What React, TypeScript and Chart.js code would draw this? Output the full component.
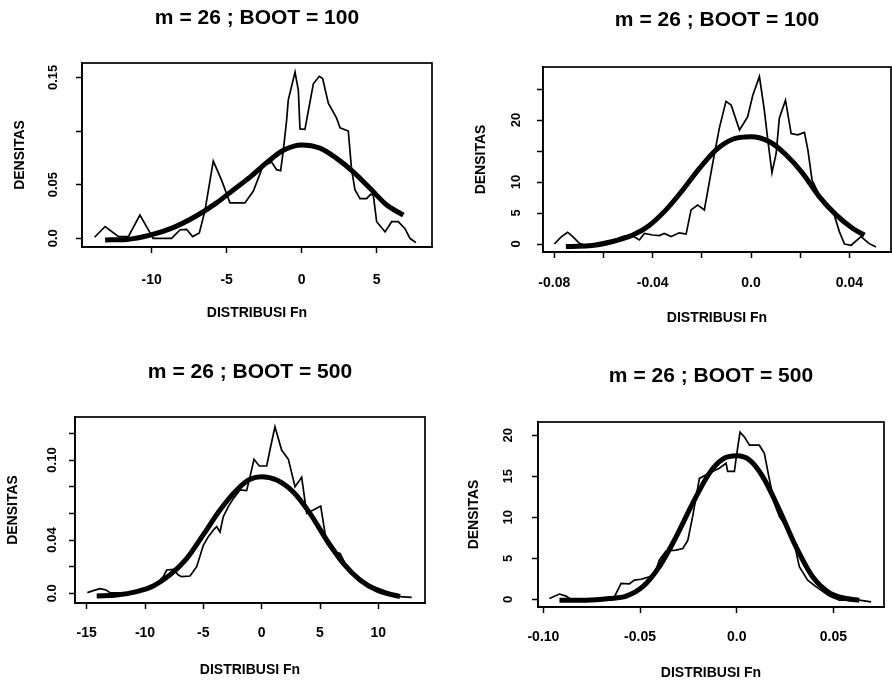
import React, { useEffect, useRef } from 'react';
import { Chart, registerables } from 'chart.js';

Chart.register(...registerables);

const FONT = '"Liberation Sans", Arial, Helvetica, sans-serif';

// ---------- titles ----------
const TITLE_100 = 'm = 26 ; BOOT = 100';
const TITLE_500 = 'm = 26 ; BOOT = 500';
const X_TITLE = 'DISTRIBUSI Fn';
const Y_TITLE = 'DENSITAS';

// ---------- panel 1 (top-left) ----------
const p1XTicks = [-10, -5, 0, 5];
const p1XLabels = ['-10', '-5', '0', '5'];
const p1YTicks = [0, 0.05, 0.1, 0.15];
const p1YLabels = ['0.0', '0.05', '', '0.15'];
const p1Thin: [number, number][] = [
  [-13.8, 0.001], [-13.1, 0.011], [-12.2, 0.0015], [-11.55, 0.0015], [-10.78, 0.0217],
  [-10.1, 0.005], [-9.9, 0], [-8.67, 0], [-8.1, 0.008], [-7.67, 0.0084], [-7.27, 0.0016],
  [-6.82, 0.005], [-6.44, 0.026], [-5.89, 0.072], [-5.33, 0.054], [-4.78, 0.033],
  [-3.78, 0.033], [-3.22, 0.044], [-2.56, 0.068], [-2.0, 0.071], [-1.67, 0.064],
  [-1.4, 0.063], [-1.22, 0.082], [-1.0, 0.11], [-0.89, 0.129], [-0.44, 0.155],
  [-0.22, 0.138], [-0.11, 0.102], [0.22, 0.1015], [0.78, 0.144], [1.18, 0.151],
  [1.4, 0.149], [1.78, 0.126], [2.33, 0.112], [2.56, 0.103], [3.11, 0.1], [3.33, 0.064],
  [3.56, 0.045], [3.89, 0.037], [4.33, 0.037], [4.6, 0.041], [4.78, 0.04], [5.0, 0.0155],
  [5.56, 0.006], [6.0, 0.0155], [6.44, 0.0155], [6.89, 0.009], [7.22, 0], [7.62, -0.004],
];
const p1Thick: [number, number][] = [
  [-13.1, -0.0015], [-11.67, -0.001], [-10.1, 0.003], [-8.56, 0.01], [-7.0, 0.021],
  [-5.67, 0.033], [-4.56, 0.045], [-3.44, 0.057], [-2.33, 0.0705], [-1.22, 0.082],
  [0, 0.087], [1.22, 0.084], [2.33, 0.0745], [3.44, 0.062], [4.56, 0.0466],
  [5.67, 0.031], [6.78, 0.0217],
];

// ---------- panel 2 (top-right) ----------
const p2XTicks = [-0.08, -0.06, -0.04, -0.02, 0, 0.02, 0.04];
const p2XLabels = ['-0.08', '', '-0.04', '', '0.0', '', '0.04'];
const p2YTicks = [0, 5, 10, 15, 20, 25];
const p2YLabels = ['0', '5', '10', '', '20', ''];
const p2Thin: [number, number][] = [
  [-0.08, 0], [-0.0773, 1.1], [-0.0746, 1.9], [-0.0725, 1.2], [-0.0698, 0.1],
  [-0.0671, -0.3], [-0.0603, 0], [-0.0556, 0.65], [-0.0522, 1.2], [-0.0488, 1.45],
  [-0.0454, 0.65], [-0.0434, 1.7], [-0.04, 1.45], [-0.0373, 1.35], [-0.0353, 1.7],
  [-0.0325, 1.2], [-0.0292, 1.8], [-0.0264, 1.6], [-0.0244, 5.5], [-0.0217, 6.3],
  [-0.019, 5.5], [-0.0156, 13.0], [-0.0129, 18.7], [-0.0102, 23.0], [-0.0081, 22.4],
  [-0.0047, 18.4], [-0.0014, 20.5], [0.0007, 24.0], [0.0034, 27.0], [0.0054, 21.6],
  [0.0068, 16.8], [0.0085, 11.5], [0.0102, 14.6], [0.0115, 20.3], [0.014, 23.2],
  [0.0163, 17.8], [0.019, 17.6], [0.0217, 18.0], [0.0231, 15.2], [0.0248, 10.3],
  [0.0264, 9.0], [0.0298, 6.3], [0.0332, 5.5], [0.0359, 2.0], [0.038, 0],
  [0.0407, -0.2], [0.0447, 1.2], [0.0479, 0.1], [0.0508, -0.5],
];
const p2Thick: [number, number][] = [
  [-0.0753, -0.4], [-0.0658, -0.3], [-0.0563, 0.4], [-0.0481, 1.45], [-0.0414, 3.0],
  [-0.0346, 5.5], [-0.0278, 8.7], [-0.021, 12.2], [-0.0142, 15.2], [-0.0075, 16.9],
  [0, 17.3], [0.0075, 16.5], [0.0142, 14.4], [0.021, 11.4], [0.0278, 7.6],
  [0.0346, 4.7], [0.0414, 2.5], [0.0461, 1.45],
];

// ---------- panel 3 (bottom-left) ----------
const p3XTicks = [-15, -10, -5, 0, 5, 10];
const p3XLabels = ['-15', '-10', '-5', '0', '5', '10'];
const p3YTicks = [0, 0.02, 0.04, 0.06, 0.08, 0.1, 0.12];
const p3YLabels = ['0.0', '', '0.04', '', '', '0.10', ''];
const p3Thin: [number, number][] = [
  [-14.94, 0.0005], [-14.43, 0.002], [-13.86, 0.0035], [-13.34, 0.0025], [-13.0, 0.0005],
  [-11.5, 0.0], [-9.86, 0.0037], [-9.0, 0.0075], [-8.43, 0.0125], [-8.14, 0.0175],
  [-7.57, 0.018], [-7.14, 0.0137], [-6.86, 0.0125], [-6.14, 0.013], [-5.57, 0.02],
  [-5.0, 0.036], [-4.57, 0.0425], [-4.14, 0.0475], [-3.86, 0.05], [-3.57, 0.046],
  [-3.29, 0.0575], [-2.86, 0.065], [-2.43, 0.071], [-1.86, 0.0775], [-1.29, 0.077],
  [-1.0, 0.0875], [-0.66, 0.1005], [-0.2, 0.0955], [0.43, 0.0955], [0.71, 0.1075],
  [1.14, 0.125], [1.71, 0.1075], [2.29, 0.1005], [2.86, 0.08], [3.43, 0.087],
  [3.86, 0.06], [4.43, 0.0625], [5.06, 0.0655], [5.57, 0.0375], [6.14, 0.031],
  [6.71, 0.03], [7.29, 0.02], [7.86, 0.015], [8.43, 0.01], [9.57, 0.005],
  [10.71, 0.0013], [11.86, -0.0025], [12.86, -0.003],
];
const p3Thick: [number, number][] = [
  [-14.14, -0.002], [-12.43, -0.0013], [-10.71, 0.0013], [-9.29, 0.0055], [-7.86, 0.0138],
  [-6.43, 0.026], [-5.0, 0.044], [-3.57, 0.0625], [-2.14, 0.0775], [-1.0, 0.0855],
  [0, 0.0875], [1.29, 0.085], [2.71, 0.076], [4.14, 0.06], [5.57, 0.04],
  [7.0, 0.0225], [8.43, 0.01], [9.86, 0.0025], [11.86, -0.0025],
];

// ---------- panel 4 (bottom-right) ----------
const p4XTicks = [-0.1, -0.05, 0, 0.05];
const p4XLabels = ['-0.10', '-0.05', '0.0', '0.05'];
const p4YTicks = [0, 5, 10, 15, 20];
const p4YLabels = ['0', '5', '10', '15', '20'];
const p4Thin: [number, number][] = [
  [-0.0969, 0.1], [-0.0917, 0.65], [-0.0883, 0.4], [-0.0857, 0], [-0.078, -0.1],
  [-0.071, 0.1], [-0.0633, 0.3], [-0.0598, 1.95], [-0.0555, 1.9], [-0.0529, 2.35],
  [-0.0495, 2.45], [-0.0452, 2.75], [-0.0426, 3.0], [-0.04, 4.8], [-0.0366, 5.9],
  [-0.0314, 6.0], [-0.0279, 6.2], [-0.0253, 7.2], [-0.0228, 10.1], [-0.0193, 14.75],
  [-0.0141, 15.4], [-0.009, 16.0], [-0.0055, 16.6], [-0.0047, 15.6], [-0.0012, 15.6],
  [-0.0003, 17.2], [0.0017, 20.4], [0.004, 19.8], [0.0066, 18.8], [0.0117, 18.8],
  [0.0143, 17.8], [0.0166, 15.0], [0.0195, 11.7], [0.0221, 10.1], [0.0255, 8.9],
  [0.0298, 6.8], [0.0324, 4.0], [0.0367, 2.35], [0.041, 1.55], [0.0479, 0.4],
  [0.0531, -0.1], [0.0634, -0.1], [0.0695, -0.3],
];
const p4Thick: [number, number][] = [
  [-0.0917, -0.1], [-0.0779, -0.1], [-0.0659, 0.1], [-0.0572, 0.4], [-0.0486, 1.55],
  [-0.04, 4.0], [-0.0314, 7.6], [-0.0228, 11.7], [-0.0141, 15.4], [-0.0072, 17.1],
  [0, 17.5], [0.0066, 17.0], [0.0134, 15.0], [0.0221, 10.9], [0.0307, 6.4],
  [0.0393, 2.75], [0.0479, 0.8], [0.0566, 0.1], [0.0634, -0.1],
];

type PanelCfg = {
  title: string;
  thin: [number, number][];
  thick: [number, number][];
  xTicks: number[];
  xLabels: string[];
  yTicks: number[];
  yLabels: string[];
  xMin: number; xMax: number; yMin: number; yMax: number;
  // layout (canvas coordinates)
  left: number; top: number; w: number; h: number;
  padRight: number; yW: number; xH: number;
  tPadTop: number; tPadBottom: number;
  xTickPad: number; xTitlePad: number;
  yTickPad: number; yTitlePad: number;
};

const PANELS: PanelCfg[] = [
  {
    title: TITLE_100, thin: p1Thin, thick: p1Thick,
    xTicks: p1XTicks, xLabels: p1XLabels, yTicks: p1YTicks, yLabels: p1YLabels,
    xMin: -14.64, xMax: 8.69, yMin: -0.0081, yMax: 0.1634,
    left: 0, top: 0, w: 446, h: 335, padRight: 14, yW: 82, xH: 88,
    tPadTop: 5.4, tPadBottom: 32.4, xTickPad: 19, xTitlePad: 13.6, yTickPad: 10.4, yTitlePad: 11.6,
  },
  {
    title: TITLE_100, thin: p2Thin, thick: p2Thick,
    xTicks: p2XTicks, xLabels: p2XLabels, yTicks: p2YTicks, yLabels: p2YLabels,
    xMin: -0.0846, xMax: 0.0569, yMin: -1.29, yMax: 28.55,
    left: 446, top: 0, w: 446, h: 335, padRight: 1, yW: 97, xH: 83,
    tPadTop: 7.4, tPadBottom: 34.4, xTickPad: 16.6, xTitlePad: 8.6, yTickPad: 13.8, yTitlePad: 26.6,
  },
  {
    title: TITLE_500, thin: p3Thin, thick: p3Thick,
    xTicks: p3XTicks, xLabels: p3XLabels, yTicks: p3YTicks, yLabels: p3YLabels,
    xMin: -16.0, xMax: 14.0, yMin: -0.00725, yMax: 0.13225,
    left: 0, top: 335, w: 446, h: 348, padRight: 21, yW: 75, xH: 80,
    tPadTop: 24.4, tPadBottom: 32.4, xTickPad: 15.6, xTitlePad: 4.6, yTickPad: 4.4, yTitlePad: 4.6,
  },
  {
    title: TITLE_500, thin: p4Thin, thick: p4Thick,
    xTicks: p4XTicks, xLabels: p4XLabels, yTicks: p4YTicks, yLabels: p4YLabels,
    xMin: -0.1028, xMax: 0.0762, yMin: -0.93, yMax: 21.63,
    left: 446, top: 335, w: 446, h: 348, padRight: 8, yW: 92, xH: 76,
    tPadTop: 28.4, tPadBottom: 33.4, xTickPad: 15.6, xTitlePad: 1.6, yTickPad: 16.8, yTitlePad: 19.6,
  },
];

const boxPlugin = {
  id: 'plotBox',
  afterDraw(chart: any) {
    const { ctx, chartArea } = chart;
    ctx.save();
    ctx.strokeStyle = '#000';
    ctx.lineWidth = 1.7;
    ctx.strokeRect(chartArea.left, chartArea.top, chartArea.right - chartArea.left, chartArea.bottom - chartArea.top);
    ctx.restore();
  },
};

function Panel({ cfg }: { cfg: PanelCfg }) {
  const ref = useRef<HTMLCanvasElement | null>(null);
  useEffect(() => {
    if (!ref.current) return;
    const toPts = (arr: [number, number][]) => arr.map(([x, y]) => ({ x, y }));
    const chart = new Chart(ref.current, {
      type: 'line',
      data: {
        datasets: [
          {
            data: toPts(cfg.thick),
            borderColor: '#000',
            borderWidth: 5,
            pointRadius: 0,
            fill: false,
            cubicInterpolationMode: 'monotone',
          },
          {
            data: toPts(cfg.thin),
            borderColor: '#000',
            borderWidth: 1.7,
            pointRadius: 0,
            fill: false,
            tension: 0,
          },
        ],
      },
      options: {
        animation: false,
        responsive: false,
        devicePixelRatio: 1,
        events: [],
        layout: { padding: { left: 0, right: cfg.padRight, top: 0, bottom: 0 } },
        plugins: {
          legend: { display: false },
          tooltip: { enabled: false },
          title: {
            display: true,
            text: cfg.title,
            fullSize: false,
            color: '#000',
            font: { family: FONT, size: 21, weight: 'bold', lineHeight: 1.2 },
            padding: { top: cfg.tPadTop, bottom: cfg.tPadBottom },
          },
        },
        scales: {
          x: {
            type: 'linear',
            min: cfg.xMin,
            max: cfg.xMax,
            afterFit: (s: any) => { s.height = cfg.xH; },
            afterBuildTicks: (a: any) => { a.ticks = cfg.xTicks.map((v) => ({ value: v })); },
            ticks: {
              autoSkip: false,
              minRotation: 0,
              maxRotation: 0,
              padding: cfg.xTickPad,
              color: '#000',
              font: { family: FONT, size: 14, weight: 'bold', lineHeight: 1.2 },
              callback: (_v: any, i: number) => cfg.xLabels[i],
            },
            grid: { display: true, drawOnChartArea: false, drawTicks: true, tickLength: 6, tickWidth: 1.5, color: '#000' },
            border: { display: true, color: '#000', width: 1.7 },
            title: {
              display: true,
              text: X_TITLE,
              color: '#000',
              font: { family: FONT, size: 14, weight: 'bold', lineHeight: 1.2 },
              padding: { top: 0, bottom: cfg.xTitlePad },
            },
          },
          y: {
            type: 'linear',
            min: cfg.yMin,
            max: cfg.yMax,
            afterFit: (s: any) => { s.width = cfg.yW; },
            afterBuildTicks: (a: any) => { a.ticks = cfg.yTicks.map((v) => ({ value: v })); },
            ticks: {
              autoSkip: false,
              minRotation: 90,
              maxRotation: 90,
              crossAlign: 'center',
              padding: cfg.yTickPad,
              color: '#000',
              font: { family: FONT, size: 13, weight: 'bold', lineHeight: 1.2 },
              callback: (_v: any, i: number) => cfg.yLabels[i],
            },
            grid: { display: true, drawOnChartArea: false, drawTicks: true, tickLength: 6, tickWidth: 1.5, color: '#000' },
            border: { display: true, color: '#000', width: 1.7 },
            title: {
              display: true,
              text: Y_TITLE,
              color: '#000',
              font: { family: FONT, size: 14, weight: 'bold', lineHeight: 1.2 },
              padding: { top: cfg.yTitlePad, bottom: 0 },
            },
          },
        },
      } as any,
      plugins: [boxPlugin],
    });
    return () => chart.destroy();
  }, [cfg]);
  return (
    <canvas
      ref={ref}
      width={cfg.w}
      height={cfg.h}
      style={{ position: 'absolute', left: cfg.left, top: cfg.top, width: cfg.w, height: cfg.h }}
    />
  );
}

export default function App() {
  return (
    <div style={{ position: 'absolute', left: 0, top: 0, width: 892, height: 683, background: '#fff', overflow: 'hidden' }}>
      {PANELS.map((p, i) => (
        <Panel key={i} cfg={p} />
      ))}
    </div>
  );
}
